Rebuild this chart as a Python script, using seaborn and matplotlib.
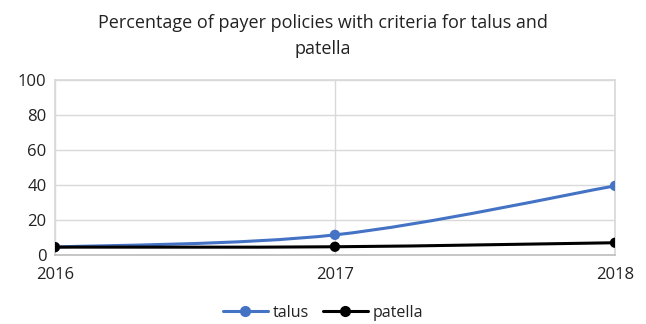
import matplotlib
matplotlib.use("Agg")
import matplotlib.pyplot as plt
from matplotlib.path import Path
from matplotlib.patches import PathPatch
import seaborn as sns
import pandas as pd
import numpy as np

years = [2016, 2017, 2018]
talus = [4.5, 11.5, 39.5]
patella = [4.5, 4.7, 7.0]

sns.set_theme(style="white")
plt.rcParams['font.family'] = ['Open Sans', 'DejaVu Sans']

df = pd.DataFrame({"year": years * 2,
                   "value": talus + patella,
                   "series": ["talus"] * 3 + ["patella"] * 3})
palette = {"talus": "#4472C4", "patella": "#000000"}
text_color = "#222222"

fig = plt.figure(figsize=(6.46, 3.24), dpi=100)
ax = fig.add_axes([0.085, 0.213, 0.867, 0.54])

# markers from seaborn; smoothed connecting curves drawn as Bezier paths
sns.scatterplot(data=df, x="year", y="value", hue="series", palette=palette,
                s=55, edgecolor="none", ax=ax, legend=False, zorder=4)


def smooth_path(xs, ys):
    pts = np.column_stack([xs, ys]).astype(float)
    verts = [pts[0]]
    codes = [Path.MOVETO]
    n = len(pts)
    for i in range(n - 1):
        p0 = pts[max(i - 1, 0)]
        p1 = pts[i]
        p2 = pts[i + 1]
        p3 = pts[min(i + 2, n - 1)]
        c1 = p1 + (p2 - p0) / 6.0
        c2 = p2 - (p3 - p1) / 6.0
        verts += [c1, c2, p2]
        codes += [Path.CURVE4] * 3
    return Path(verts, codes)


for name, vals in [("talus", talus), ("patella", patella)]:
    ax.add_patch(PathPatch(smooth_path(years, vals), facecolor="none",
                           edgecolor=palette[name], lw=2.2, zorder=3))

ax.set_xlim(2016, 2018)
ax.set_ylim(0, 100)
ax.set_xticks(years)
ax.set_yticks(range(0, 101, 20))
ax.grid(True, color="#d9d9d9", lw=1)
ax.set_axisbelow(True)
for s in ax.spines.values():
    s.set_color("#d9d9d9")
ax.spines["bottom"].set_color("#bfbfbf")
ax.tick_params(axis="both", length=0, labelsize=12, colors=text_color)
ax.tick_params(axis="x", pad=9)
ax.tick_params(axis="y", pad=6)
ax.set_xlabel("")
ax.set_ylabel("")

fig.text(0.5, 0.93, "Percentage of payer policies with criteria for talus and",
         ha="center", va="center", fontsize=13, color=text_color)
fig.text(0.5, 0.85, "patella", ha="center", va="center", fontsize=13,
         color=text_color)

handles = [plt.Line2D([], [], color=palette[k], marker="o", lw=2.2, ms=7)
           for k in ["talus", "patella"]]
fig.legend(handles, ["talus", "patella"], loc="center", ncol=2,
           bbox_to_anchor=(0.5, 0.035), frameon=False, fontsize=11.5,
           handlelength=2.8, columnspacing=0.9, handletextpad=0.3,
           labelcolor=text_color)

fig.savefig("out.png", dpi=100)
